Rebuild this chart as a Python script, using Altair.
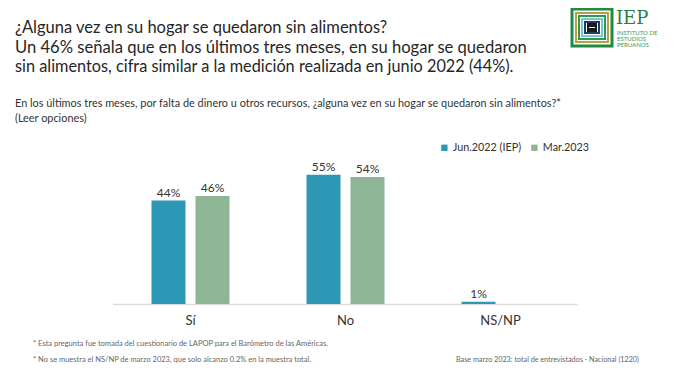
import altair as alt
import pandas as pd

# ---- data ----
categories = ["Sí", "No", "NS/NP"]
series = ["Jun.2022 (IEP)", "Mar.2023"]
jun2022 = [44, 55, 1]
mar2023 = [46, 54, None]   # NS/NP de marzo 2023 no se muestra
colors = ["#2c98b6", "#8db596"]

rows = []
for c, a, b in zip(categories, jun2022, mar2023):
    rows.append({"cat": c, "serie": series[0], "val": a})
    if b is not None:
        rows.append({"cat": c, "serie": series[1], "val": b})
df = pd.DataFrame(rows)

FONT = "Lato"
W, H = 663, 356

xenc = alt.X("cat:N", sort=categories,
             scale=alt.Scale(range=[105, 570], paddingInner=0, paddingOuter=0),
             axis=None)
xoff = alt.XOffset("serie:N", sort=series,
                   scale=alt.Scale(paddingInner=0.227, paddingOuter=0.875))
yenc = alt.Y("val:Q", scale=alt.Scale(domain=[0, 100], range=[296, 61]), axis=None)

bars = alt.Chart(df).mark_bar().encode(
    x=xenc, xOffset=xoff, y=yenc,
    color=alt.Color("serie:N", sort=series,
                    scale=alt.Scale(domain=series, range=colors),
                    legend=alt.Legend(title=None, orient="none", direction="horizontal",
                                      legendX=431, legendY=134,
                                      symbolType="square", symbolSize=40,
                                      symbolStrokeWidth=0, labelFontSize=10.8,
                                      labelFont=FONT, labelColor="#333333",
                                      labelOffset=3, columnPadding=7)),
)

vals = alt.Chart(df).transform_calculate(lab="datum.val + '%'").mark_text(
    baseline="alphabetic", dy=-4, fontSize=12, font=FONT, color="#333333"
).encode(x=xenc, xOffset=xoff, y=yenc, text="lab:N")

cat_df = pd.DataFrame({"cat": categories})
cat_labels = alt.Chart(cat_df).mark_text(
    baseline="middle", fontSize=13, font=FONT, color="#333333"
).encode(x=xenc, y=alt.value(313), text="cat:N")

base = alt.Chart(pd.DataFrame({"a": [0]})).mark_rule(color="#dcdcdc", strokeWidth=1.5).encode(
    x=alt.value(105), x2=alt.value(570), y=alt.value(296.5))


def txt(s, x, y, size, color="#262626", font=FONT, weight="normal", align="left",
        baseline="middle"):
    return alt.Chart(pd.DataFrame({"t": [s]})).mark_text(
        align=align, baseline=baseline, fontSize=size, font=font, color=color,
        fontWeight=weight
    ).encode(x=alt.value(x), y=alt.value(y), text="t:N")


texts = [
    txt("¿Alguna vez en su hogar se quedaron sin alimentos?", 7, 20, 16.5),
    txt("Un 46% señala que en los últimos tres meses, en su hogar se quedaron", 7, 39.5, 16.6),
    txt("sin alimentos, cifra similar a la medición realizada en junio 2022 (44%).", 7, 59, 16.3),
    txt("En los últimos tres meses, por falta de dinero u otros recursos, ¿alguna vez en su hogar se quedaron sin alimentos?*",
        7, 96, 10.9, color="#333333"),
    txt("(Leer opciones)", 7, 111, 10.9, color="#333333"),
    txt("* Esta pregunta fue tomada del cuestionario de LAPOP para el Barómetro de las Américas.",
        25, 336, 7.5, color="#666666"),
    txt("* No se muestra el NS/NP de marzo 2023, que solo alcanzo 0.2% en la muestra total.",
        25, 351.5, 7.5, color="#666666"),
    txt("Base marzo 2023: total de entrevistados - Nacional (1220)", 448, 351.5, 7.2, color="#666666"),
]

# ---- logo (decorative) ----
logo = []
lx0, ly0, lx1, ly1 = 563, 0, 605, 39
rings = [(0, "#1f8a43", 3), (4, "#b8a044", 2), (7, "#2e9a4a", 2),
         (10, "#7cc4d8", 2), (13, "#1f3f5f", 2)]
for inset, col, sw in rings:
    logo.append(alt.Chart(pd.DataFrame({"a": [0]})).mark_rect(
        fill="white", stroke=col, strokeWidth=sw).encode(
        x=alt.value(lx0 + inset + 1), x2=alt.value(lx1 - inset - 1),
        y=alt.value(ly0 + inset + 1), y2=alt.value(ly1 - inset - 1)))
logo.append(alt.Chart(pd.DataFrame({"a": [0]})).mark_rect(fill="#1a1a1a").encode(
    x=alt.value(lx0 + 16), x2=alt.value(lx1 - 16),
    y=alt.value(ly0 + 15), y2=alt.value(ly1 - 15)))
logo.append(alt.Chart(pd.DataFrame({"a": [0]})).mark_rule(color="white", strokeWidth=1).encode(
    x=alt.value(lx0 + 18), x2=alt.value(lx1 - 18), y=alt.value((ly0 + ly1) / 2)))
logo += [
    txt("IEP", 608, 16, 18, color="#2b8040", font="DejaVu Serif", baseline="alphabetic"),
    txt("INSTITUTO DE", 609, 25, 6.0, color="#3a9a55"),
    txt("ESTUDIOS", 609, 31, 6.0, color="#3a9a55"),
    txt("PERUANOS", 609, 37, 6.0, color="#3a9a55"),
]

chart = alt.layer(base, bars, vals, cat_labels, *texts, *logo).properties(
    width=W, height=H, padding=0,
    autosize=alt.AutoSizeParams(type="none"),
    background="white",
).configure_view(stroke=None)

chart.save("out.html", embed_options={"renderer": "svg", "actions": False})
